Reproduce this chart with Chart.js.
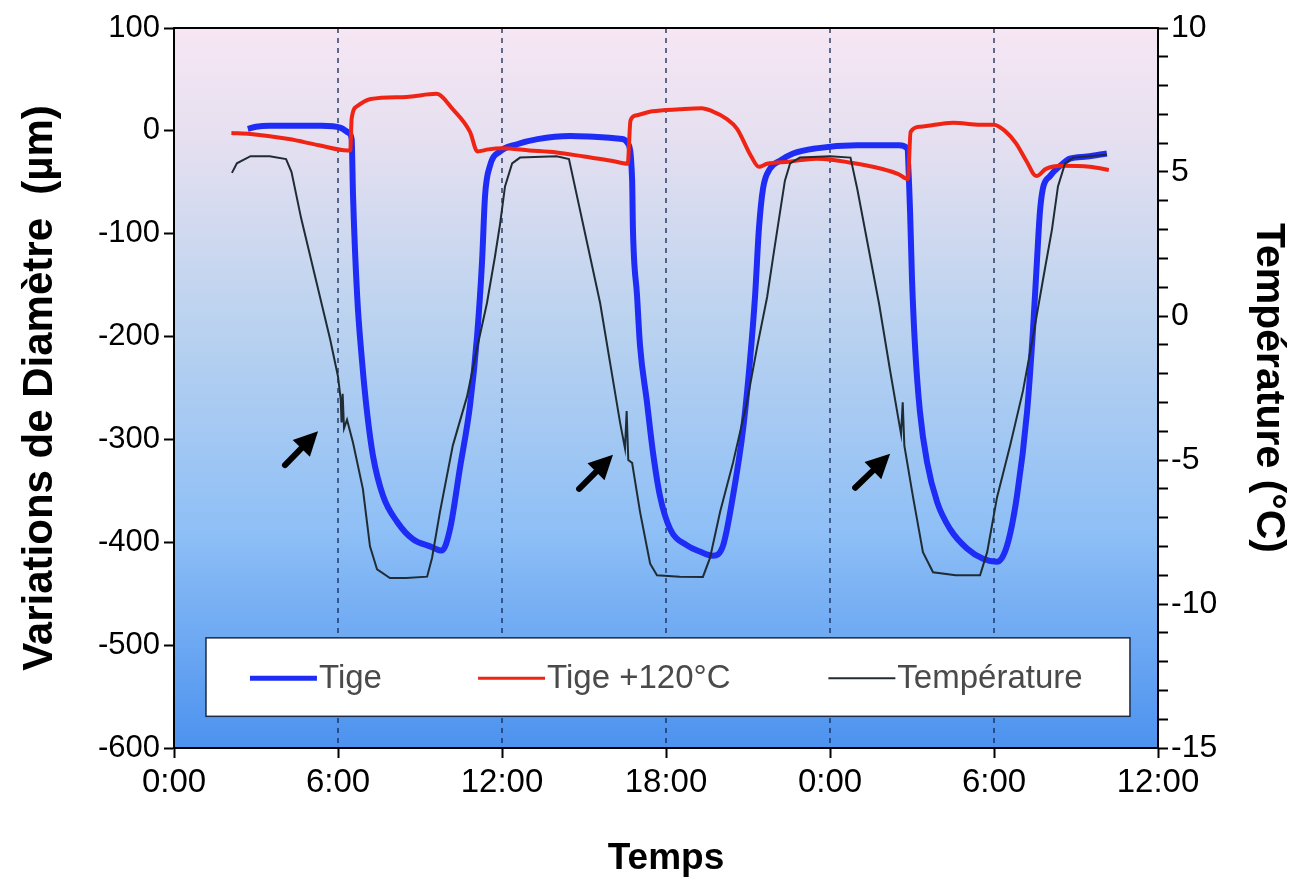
<!DOCTYPE html>
<html>
<head>
<meta charset="utf-8">
<script src="https://cdn.jsdelivr.net/npm/chart.js@4.4.0/dist/chart.umd.min.js"></script>
<style>
  body { margin: 0; background: #fff; }
</style>
</head>
<body>
<canvas id="myChart" width="1296" height="887"></canvas>
<script>
// valeurs, temps en heures depuis le premier 0:00
const tigeHeures = [2.7, 3.0, 3.5, 5.4, 6.1, 6.4, 6.5, 6.55, 6.7, 6.88,
  7.06, 7.28, 7.65, 8.16, 8.74, 9.37, 9.8, 10.1, 10.46, 10.83,
  11.09, 11.27, 11.38, 11.56, 11.93, 12.55, 13.3, 14.5, 15.5, 16.4,
  16.6, 16.76, 16.79, 16.94, 17.05, 17.3, 17.52, 17.78, 18.15, 18.77,
  19.24, 19.72, 20.09, 20.45, 20.82, 21.07, 21.26, 21.4, 21.55, 21.8,
  22.17, 22.65, 23.49, 24.99, 26.53, 26.82, 26.93, 27.0, 27.11, 27.29,
  27.55, 27.92, 28.39, 29.01, 29.6, 30.11, 30.48, 30.84, 31.21, 31.43,
  31.57, 31.68, 31.79, 32.05, 32.42, 32.78, 33.4, 34.13];
const tige = [2, 4, 5, 5, 3, -2, -8, -63, -160, -224,
  -273, -316, -355, -380, -397, -404, -408, -387, -328, -267,
  -199, -127, -63, -34, -20, -13, -8, -5, -6, -8,
  -12, -47, -95, -160, -209, -263, -312, -355, -387, -403,
  -409, -413, -403, -355, -290, -224, -160, -95, -56, -37,
  -29, -22, -17, -14, -14, -17, -79, -144, -209, -273,
  -322, -361, -387, -406, -416, -419, -403, -355, -273, -192,
  -127, -79, -56, -44, -34, -27, -25, -22];

const chaudHeures = [2.1, 2.8, 4.2, 5.3, 6.35, 6.45, 6.5, 6.7, 7.2, 8.5,
  9.6, 10.2, 10.83, 11.1, 11.5, 12.0, 13.0, 14.0, 15.0, 16.0,
  16.6, 16.7, 16.9, 17.5, 18.5, 19.3, 19.7, 20.2, 20.6, 21.1,
  21.4, 21.7, 22.5, 23.5, 25.0, 26.5, 26.85, 26.95, 27.3, 28.5,
  29.5, 30.0, 30.4, 30.8, 31.2, 31.55, 31.9, 32.5, 33.5, 34.2];
const tigeChaud = [-2, -3, -8, -14, -19, -19, 12, 24, 31, 33,
  36, 21, -1, -20, -18, -17, -19, -21, -25, -29,
  -32, 10, 15, 19, 21, 22, 19, 12, 2, -24,
  -35, -32, -30, -27, -32, -42, -47, -1, 4, 8,
  6, 6, 0, -12, -30, -44, -37, -34, -35, -38];

const tempHeures = [2.12, 2.3, 2.8, 3.5, 4.1, 4.3, 4.65, 5.71, 6.0, 6.1,
  6.13, 6.17, 6.22, 6.33, 6.55, 6.91, 7.17, 7.43, 7.9, 8.5,
  9.26, 9.44, 9.73, 10.2, 10.72, 11.09, 11.45, 11.74, 11.93, 12.11,
  12.37, 12.66, 14.0, 14.45, 15.59, 15.95, 16.32, 16.5, 16.56, 16.62,
  16.76, 17.05, 17.42, 17.67, 18.5, 19.35, 19.61, 19.98, 20.45, 20.96,
  21.33, 21.7, 21.92, 22.17, 22.35, 22.54, 22.9, 24.0, 24.75, 25.0,
  25.8, 26.2, 26.49, 26.6, 26.66, 26.72, 27.04, 27.4, 27.77, 28.6,
  29.49, 29.75, 30.11, 30.59, 31.06, 31.43, 31.79, 32.12, 32.34, 32.6,
  32.89, 34.13];
const temperature = [4.97, 5.3, 5.55, 5.55, 5.45, 5.0, 3.4, -0.8, -2.1, -2.9,
  -3.7, -2.7, -3.9, -3.6, -4.4, -6.0, -8.0, -8.8, -9.1, -9.1,
  -9.05, -8.4, -6.8, -4.5, -2.8, -1.1, 0.45, 2.05, 3.2, 4.5,
  5.3, 5.5, 5.55, 5.45, 0.45, -1.6, -3.7, -4.6, -3.3, -5.0,
  -5.1, -6.8, -8.6, -9.0, -9.05, -9.06, -8.4, -6.8, -5.1, -3.0,
  -1.1, 0.66, 2.05, 3.6, 4.7, 5.3, 5.5, 5.55, 5.5, 4.4,
  0.4, -1.9, -3.5, -4.1, -3.0, -4.5, -6.3, -8.2, -8.9, -9.0,
  -9.0, -8.2, -6.3, -4.5, -2.6, -0.7, 1.25, 3.0, 4.5, 5.3,
  5.5, 5.6];

// lignes pointillées verticales (heures)
const reperes = [6, 12, 18, 24, 30];
// flèches : [heure, µm] de la queue puis de la pointe
const flechesQueue = [[4.06, -325], [14.82, -348], [24.92, -347]];
const flechesPointe = [[5.27, -292], [16.06, -315], [26.2, -314]];

const police = "'Liberation Sans', Arial, sans-serif";
Chart.defaults.font.family = police;
Chart.defaults.color = '#000';

function paires(xs, ys) {
  return xs.map((x, i) => ({ x: x, y: ys[i] }));
}

// fond dégradé de la zone du graphique + pointillés
const fond = {
  id: 'fond',
  beforeDatasetsDraw(chart) {
    const { ctx, chartArea: a, scales } = chart;
    const g = ctx.createLinearGradient(0, a.top, 0, a.bottom);
    g.addColorStop(0, '#f7e6f4');
    g.addColorStop(0.15, '#e6e0f0');
    g.addColorStop(0.4, '#bcd3ef');
    g.addColorStop(0.7, '#8ebff6');
    g.addColorStop(1, '#4c92ef');
    ctx.save();
    ctx.fillStyle = g;
    ctx.fillRect(a.left, a.top, a.width, a.height);
    ctx.strokeStyle = 'rgba(15,35,80,0.85)';
    ctx.lineWidth = 1.5;
    ctx.setLineDash([5, 5]);
    reperes.forEach(h => {
      const x = scales.x.getPixelForValue(h);
      ctx.beginPath();
      ctx.moveTo(x, a.top);
      ctx.lineTo(x, a.bottom);
      ctx.stroke();
    });
    ctx.restore();
  }
};

// cadre, flèches et légende
const dessus = {
  id: 'dessus',
  afterDatasetsDraw(chart) {
    const { ctx, chartArea: a, scales } = chart;
    ctx.save();
    // flèches
    ctx.fillStyle = '#000';
    ctx.strokeStyle = '#000';
    flechesQueue.forEach((q, i) => {
      const p = flechesPointe[i];
      const x1 = scales.x.getPixelForValue(q[0]), y1 = scales.y.getPixelForValue(q[1]);
      const x2 = scales.x.getPixelForValue(p[0]), y2 = scales.y.getPixelForValue(p[1]);
      const ang = Math.atan2(y2 - y1, x2 - x1);
      const lt = 24, lg = 12;
      const bx = x2 - lt * Math.cos(ang), by = y2 - lt * Math.sin(ang);
      ctx.lineWidth = 6;
      ctx.lineCap = 'round';
      ctx.beginPath();
      ctx.moveTo(x1, y1);
      ctx.lineTo(bx, by);
      ctx.stroke();
      ctx.beginPath();
      ctx.moveTo(x2, y2);
      ctx.lineTo(bx + lg * Math.sin(ang), by - lg * Math.cos(ang));
      ctx.lineTo(bx - lg * Math.sin(ang), by + lg * Math.cos(ang));
      ctx.closePath();
      ctx.fill();
    });

    // légende
    const lx = a.left + 0.0325 * a.width, rx = a.left + 0.9715 * a.width;
    const ty = a.top + 0.847 * a.height, by = a.top + 0.956 * a.height;
    ctx.fillStyle = '#fff';
    ctx.fillRect(lx, ty, rx - lx, by - ty);
    ctx.strokeStyle = '#1c2a44';
    ctx.lineWidth = 1.5;
    ctx.strokeRect(lx, ty, rx - lx, by - ty);
    const debuts = [0.0772, 0.309, 0.665];
    const yl = a.top + 0.903 * a.height;
    ctx.font = '33px ' + police;
    ctx.textBaseline = 'middle';
    ctx.textAlign = 'left';
    chart.data.datasets.forEach((ds, i) => {
      const x0 = a.left + debuts[i] * a.width;
      ctx.strokeStyle = ds.borderColor;
      ctx.lineWidth = Math.max(ds.borderWidth - 1, 2);
      ctx.lineCap = 'butt';
      ctx.beginPath();
      ctx.moveTo(x0, yl);
      ctx.lineTo(x0 + 67, yl);
      ctx.stroke();
      ctx.fillStyle = '#4a4a4a';
      ctx.fillText(ds.label, x0 + 69, yl + 1);
    });

    // cadre
    ctx.strokeStyle = '#000';
    ctx.lineWidth = 2;
    ctx.strokeRect(a.left, a.top, a.width, a.height);
    ctx.restore();
  }
};

const ctx = document.getElementById('myChart').getContext('2d');
const myChart = new Chart(ctx, {
  type: 'line',
  data: {
    datasets: [
      {
        label: 'Tige',
        data: paires(tigeHeures, tige),
        borderColor: '#1e2cf5',
        borderWidth: 6,
        yAxisID: 'y',
        order: 2
      },
      {
        label: 'Tige +120°C',
        data: paires(chaudHeures, tigeChaud),
        borderColor: '#ef2414',
        borderWidth: 4,
        yAxisID: 'y',
        order: 1
      },
      {
        label: 'Température',
        data: paires(tempHeures, temperature),
        borderColor: '#1f2c34',
        borderWidth: 2,
        cubicInterpolationMode: 'default',
        tension: 0,
        yAxisID: 'y2',
        order: 0
      }
    ]
  },
  options: {
    responsive: false,
    animation: false,
    elements: {
      point: { radius: 0 },
      line: { cubicInterpolationMode: 'monotone', fill: false }
    },
    layout: { padding: { top: 28, left: 0, right: 0, bottom: 0 } },
    plugins: {
      legend: { display: false },
      tooltip: { enabled: false }
    },
    scales: {
      x: {
        type: 'linear',
        min: 0,
        max: 36,
        afterFit: s => { s.height = 139; },
        ticks: {
          stepSize: 6,
          padding: 5,
          font: { size: 33 },
          color: '#000',
          callback: v => (v % 24) + ':00'
        },
        grid: { drawOnChartArea: false, tickLength: 10, tickColor: '#000', tickWidth: 2 },
        border: { color: '#000', width: 2 },
        title: {
          display: true,
          text: 'Temps',
          font: { size: 37, weight: 'bold' },
          color: '#000',
          padding: { top: 0, bottom: 6 }
        }
      },
      y: {
        position: 'left',
        min: -600,
        max: 100,
        afterFit: s => { s.width = 174; },
        ticks: {
          stepSize: 100,
          padding: 4,
          font: { size: 31 },
          color: '#000',
          callback: v => String(v)
        },
        grid: { drawOnChartArea: false, tickLength: 10, tickColor: '#000', tickWidth: 2 },
        border: { color: '#000', width: 2 },
        title: {
          display: true,
          text: 'Variations de Diamètre  (\u00b5m)',
          font: { size: 42, weight: 'bold' },
          color: '#000',
          padding: { top: 15, bottom: 0 }
        }
      },
      y2: {
        position: 'right',
        min: -15,
        max: 10,
        afterFit: s => { s.width = 138; },
        ticks: {
          stepSize: 1,
          autoSkip: false,
          padding: 3,
          font: { size: 32 },
          color: '#000',
          callback: v => (v % 5 === 0 ? String(v) : '')
        },
        grid: { drawOnChartArea: false, tickLength: 10, tickColor: '#000', tickWidth: 2 },
        border: { color: '#000', width: 2 },
        title: {
          display: true,
          text: 'Température (°C)',
          font: { size: 41, weight: 'bold' },
          color: '#000',
          padding: { top: 3, bottom: 0 }
        }
      }
    }
  },
  plugins: [fond, dessus]
});
</script>
</body>
</html>
